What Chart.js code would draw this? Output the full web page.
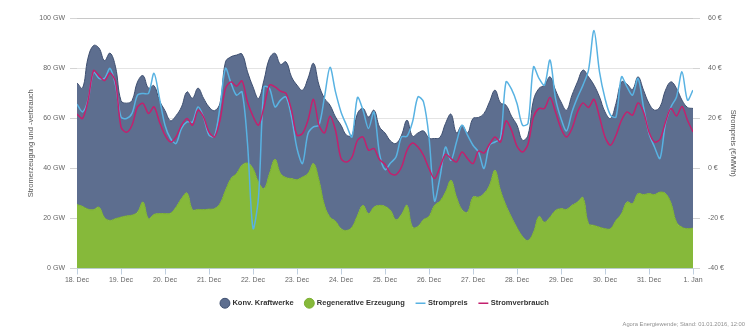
<!DOCTYPE html>
<html>
<head>
<meta charset="utf-8">
<script src="https://cdn.jsdelivr.net/npm/chart.js@4.4.1/dist/chart.umd.min.js"></script>
<style>
  body { margin: 0; background: #fff; }
  #wrap { position: relative; width: 750px; height: 331px; }
  #credit { position: absolute; right: 5px; top: 321px; font: 5.8px "Liberation Sans", Arial, sans-serif; color: #909090; }
</style>
</head>
<body>
<div id="wrap">
  <canvas id="chart" width="750" height="331"></canvas>
  <div id="credit">Agora Energiewende; Stand: 01.01.2016, 12:00</div>
</div>
<script>
// 3-hourly readings, 18 Dec 00:00 to 1 Jan 00:00
var dayLabels = ['18. Dec', '19. Dec', '20. Dec', '21. Dec', '22. Dec', '23. Dec', '24. Dec',
                 '25. Dec', '26. Dec', '27. Dec', '28. Dec', '29. Dec', '30. Dec', '31. Dec', '1. Jan'];
var stepHours = 3;

// GW
var regenerativ = [
  25.5, 24.8, 23.7, 23.5, 24.5, 20.3, 19.2, 19.9, 20.5, 21.0,
  21.3, 22.5, 26.5, 19.9, 21.6, 21.9, 21.9, 22.1, 24.5, 27.9,
  30.1, 23.5, 23.6, 23.5, 23.7, 23.9, 25.9, 31.2, 35.9, 37.9,
  41.2, 42.1, 39.9, 34.5, 31.9, 37.9, 43.6, 37.9, 36.3, 35.9,
  35.5, 36.5, 37.9, 41.9, 35.2, 25.2, 20.5, 18.9, 15.9, 15.2,
  16.5, 21.2, 25.2, 21.9, 24.5, 25.2, 24.8, 23.2, 19.5, 21.6,
  25.2, 16.5, 16.8, 19.5, 20.8, 25.2, 26.9, 30.5, 35.2, 28.5,
  23.5, 22.5, 28.5, 28.5, 29.9, 33.2, 39.2, 31.2, 25.2, 20.5,
  16.3, 12.8, 11.2, 14.5, 20.8, 18.5, 20.5, 23.2, 23.9, 23.6,
  25.2, 26.5, 28.3, 17.9, 17.2, 16.5, 15.9, 15.9, 19.2, 21.9,
  26.5, 25.9, 29.9, 29.5, 29.9, 29.5, 30.5, 29.9, 26.1, 18.5,
  16.5, 15.9, 16.1
];
var konventionell = [
  48.6, 47.2, 60.3, 65.5, 63.5, 62.7, 66.8, 60.6, 46.5, 45.0,
  45.7, 52.0, 50.5, 52.1, 51.4, 45.1, 41.1, 36.9, 36.5, 36.6,
  40.4, 44.5, 48.4, 44.5, 40.8, 39.1, 40.1, 51.3, 48.6, 47.3,
  44.4, 36.4, 32.6, 33.4, 43.3, 46.0, 42.3, 43.6, 46.2, 40.6,
  37.7, 34.7, 38.0, 40.0, 38.0, 42.7, 44.7, 41.6, 41.3, 38.0,
  36.7, 40.7, 38.7, 38.6, 38.7, 31.3, 29.3, 27.7, 30.4, 31.6,
  34.0, 36.3, 37.3, 35.4, 31.3, 26.7, 25.4, 27.4, 26.4, 25.6,
  33.7, 31.6, 31.4, 31.8, 32.0, 33.3, 32.0, 34.9, 40.0, 40.3,
  40.9, 38.4, 42.0, 52.7, 51.1, 54.7, 56.0, 48.0, 42.6, 39.6,
  44.0, 48.0, 50.9, 58.6, 56.0, 52.0, 46.6, 44.0, 46.7, 52.6,
  47.1, 45.6, 46.6, 41.7, 36.0, 33.7, 34.0, 41.3, 48.4, 53.4,
  50.7, 48.4, 47.8
];
var verbrauch = [
  61.6, 59.9, 67.0, 79.0, 77.0, 75.0, 78.0, 74.5, 56.5, 54.4,
  57.2, 64.5, 65.9, 61.9, 64.5, 58.5, 53.2, 50.5, 52.5, 57.2,
  59.9, 57.2, 63.2, 60.5, 54.5, 52.5, 59.2, 71.9, 74.5, 72.8,
  74.9, 66.5, 60.8, 57.2, 64.5, 73.2, 72.5, 70.8, 69.9, 63.2,
  53.2, 53.9, 59.2, 67.5, 57.2, 54.1, 60.8, 55.2, 43.9, 42.5,
  44.5, 51.2, 52.5, 47.2, 47.9, 43.5, 41.6, 37.9, 37.5, 40.5,
  47.2, 50.1, 48.5, 45.2, 39.9, 35.9, 40.5, 45.6, 43.9, 42.5,
  46.5, 43.9, 41.9, 46.9, 46.1, 49.6, 52.5, 50.5, 58.9, 55.2,
  48.8, 46.5, 49.6, 60.5, 63.9, 63.9, 68.3, 62.5, 55.9, 52.5,
  55.9, 62.5, 66.1, 64.3, 67.5, 60.5, 52.5, 49.2, 53.2, 59.2,
  62.5, 61.2, 66.1, 62.5, 54.5, 50.5, 51.6, 58.5, 63.9, 60.9,
  64.7, 59.2, 54.5
];
// €/MWh
var strompreis = [
  25.6, 22.5, 27.2, 38.5, 35.9, 35.9, 39.9, 33.2, 20.5, 19.9,
  21.9, 29.2, 29.9, 29.9, 37.9, 27.9, 17.2, 11.9, 9.9, 15.9,
  18.5, 18.5, 24.5, 20.5, 13.2, 12.8, 24.5, 39.9, 34.0, 29.2,
  30.5, 9.9, -24.0, -11.5, 32.5, 31.9, 24.5, 27.2, 28.5, 20.5,
  7.9, 1.9, 13.9, 16.5, 17.2, 28.5, 40.3, 30.5, 22.5, 17.2,
  12.5, 28.3, 23.2, 15.9, 22.5, 5.9, -0.5, 2.1, 4.5, 12.5,
  12.8, 18.5, 28.5, 26.5, 12.5, -13.0, -3.5, 8.5, 3.2, 10.5,
  17.2, 13.2, 9.2, 6.5, -0.1, 9.2, 10.5, 11.9, 34.5, 31.6,
  25.9, 17.2, 17.9, 40.5, 35.9, 33.2, 43.2, 27.9, 19.9, 14.9,
  22.5, 28.3, 33.2, 39.2, 55.0, 38.5, 27.9, 21.2, 20.5, 36.5,
  32.5, 29.2, 35.9, 24.5, 13.9, 8.5, 3.9, 17.9, 24.5, 28.5,
  38.5, 27.2, 31.2
];

function toPoints(arr) {
  return arr.map(function(v, i){ return {x: i * stepHours, y: v}; });
}

Chart.defaults.font.family = '"Liberation Sans", Arial, sans-serif';
Chart.defaults.color = '#666666';

// legend shows Konv. Kraftwerke first, stacking keeps green at the bottom
var legendRank = [1, 0, 2, 3];

var ctx = document.getElementById('chart').getContext('2d');
var chart = new Chart(ctx, {
  type: 'line',
  data: {
    datasets: [
      {
        label: 'Regenerative Erzeugung',
        data: toPoints(regenerativ),
        yAxisID: 'y',
        stack: 'erzeugung',
        fill: 'origin',
        backgroundColor: '#86b93a',
        borderColor: '#7aaf30',
        borderWidth: 1,
        pointRadius: 0,
        pointStyle: 'circle',
        tension: 0.4,
        order: 2
      },
      {
        label: 'Konv. Kraftwerke',
        data: toPoints(konventionell),
        yAxisID: 'y',
        stack: 'erzeugung',
        fill: '-1',
        backgroundColor: '#5d6e8f',
        borderColor: '#3e4f70',
        borderWidth: 1,
        pointRadius: 0,
        pointStyle: 'circle',
        tension: 0.4,
        order: 2
      },
      {
        label: 'Strompreis',
        data: toPoints(strompreis),
        yAxisID: 'y1',
        fill: false,
        borderColor: '#58b2e2',
        backgroundColor: '#58b2e2',
        borderWidth: 1.5,
        pointRadius: 0,
        pointStyle: 'line',
        tension: 0.3,
        order: 1
      },
      {
        label: 'Stromverbrauch',
        data: toPoints(verbrauch),
        yAxisID: 'y',
        stack: 'verbrauch',
        fill: false,
        borderColor: '#c3206e',
        backgroundColor: '#c3206e',
        borderWidth: 1.5,
        pointRadius: 0,
        pointStyle: 'line',
        tension: 0.3,
        order: 0
      }
    ]
  },
  options: {
    responsive: false,
    animation: false,
    devicePixelRatio: 1,
    layout: { padding: { top: 18, bottom: 14, left: 0, right: 0 } },
    plugins: {
      tooltip: { enabled: false },
      legend: {
        position: 'bottom',
        fullSize: false,
        labels: {
          usePointStyle: true,
          boxHeight: 7,
          padding: 12,
          color: '#333333',
          font: { size: 7.5, weight: 'bold' },
          sort: function(a, b){ return legendRank[a.datasetIndex] - legendRank[b.datasetIndex]; }
        }
      }
    },
    scales: {
      x: {
        type: 'linear',
        min: 0,
        max: 336,
        ticks: {
          stepSize: 24,
          maxTicksLimit: 20,
          autoSkip: false,
          maxRotation: 0,
          padding: 1,
          color: '#666666',
          font: { size: 7 },
          callback: function(v){ return dayLabels[v / 24] || ''; }
        },
        grid: { drawOnChartArea: false, tickLength: 6, color: '#c0d0e0', tickColor: '#c0d0e0' },
        border: { color: '#c0d0e0' },
        afterFit: function(scale){ scale.height = 19; }
      },
      y: {
        position: 'left',
        stacked: true,
        min: 0,
        max: 100,
        ticks: {
          stepSize: 20,
          padding: 5,
          color: '#666666',
          font: { size: 7 },
          callback: function(v){ return v + ' GW'; }
        },
        grid: {
          tickLength: 7,
          color: function(c){ return c.tick && c.tick.value === 100 ? '#c8c8c8' : '#e4e4e4'; },
          tickColor: '#d4d4d4'
        },
        border: { display: false },
        title: {
          display: true,
          text: 'Stromerzeugung und -verbrauch',
          color: '#555555',
          font: { size: 7.5 },
          padding: { top: 26, bottom: 0 }
        },
        afterFit: function(scale){ scale.width = 77; }
      },
      y1: {
        position: 'right',
        min: -40,
        max: 60,
        ticks: {
          stepSize: 20,
          padding: 8,
          color: '#666666',
          font: { size: 7 },
          callback: function(v){ return v + ' €'; }
        },
        grid: { drawOnChartArea: false, tickLength: 7, tickColor: '#d4d4d4' },
        border: { display: false },
        title: {
          display: true,
          text: 'Strompreis (€/MWh)',
          color: '#555555',
          font: { size: 7.5 },
          padding: { top: 12, bottom: 0 }
        },
        afterFit: function(scale){ scale.width = 57; }
      }
    }
  }
});
</script>
</body>
</html>
